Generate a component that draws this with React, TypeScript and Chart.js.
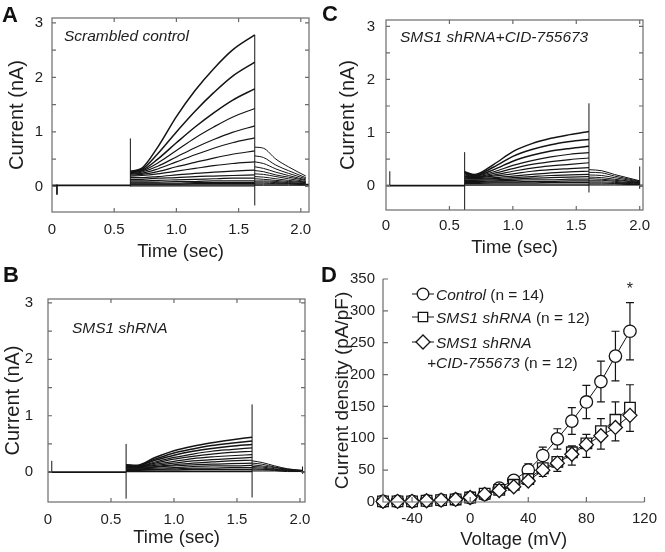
import React, { useEffect, useRef } from 'react';
import { Chart, registerables } from 'chart.js';
Chart.register(...registerables);

const FAMILY = '"Liberation Sans", Arial, Helvetica, sans-serif';
const TEXT = '#1e1e1e';
const FRAME = '#6b6b6b';
const TRACE = '#141414';

// ---------- shared tick labels ----------
const TIME_TICKS = [0, 0.5, 1, 1.5, 2];
const TIME_TICK_LABELS = ['0', '0.5', '1.0', '1.5', '2.0'];
const CURRENT_TICKS = [0, 1, 2, 3];
const CURRENT_TICK_LABELS = ['0', '1', '2', '3'];
const TIME_FRAME_TICKS = [0.5, 1, 1.5, 2];
const CURRENT_FRAME_TICKS = [0, 0.5, 1, 1.5, 2, 2.5, 3];

// ---------- Panel A : Scrambled control ----------
const A_BASELINE = 0.02;
const A_PULSE = [0.63, 1.63];
const A_STEP_T = [0.63, 0.72, 0.85, 1.0, 1.15, 1.3, 1.45, 1.63];
const A_STEP = [
  [0.28, 0.33, 0.72, 1.28, 1.76, 2.16, 2.5, 2.78],
  [0.27, 0.31, 0.6, 1.0, 1.38, 1.72, 2.02, 2.28],
  [0.26, 0.29, 0.5, 0.8, 1.09, 1.35, 1.58, 1.79],
  [0.25, 0.28, 0.43, 0.66, 0.89, 1.09, 1.27, 1.43],
  [0.24, 0.26, 0.37, 0.54, 0.71, 0.86, 0.99, 1.11],
  [0.23, 0.24, 0.32, 0.45, 0.58, 0.7, 0.8, 0.89],
  [0.21, 0.22, 0.27, 0.36, 0.44, 0.52, 0.59, 0.65],
  [0.19, 0.2, 0.23, 0.28, 0.33, 0.38, 0.42, 0.45],
  [0.16, 0.16, 0.18, 0.21, 0.24, 0.26, 0.28, 0.3],
  [0.13, 0.13, 0.15, 0.16, 0.18, 0.19, 0.2, 0.21],
  [0.1, 0.1, 0.11, 0.12, 0.13, 0.14, 0.15, 0.15],
  [0.08, 0.08, 0.08, 0.09, 0.09, 0.1, 0.1, 0.1],
  [0.06, 0.06, 0.06, 0.06, 0.07, 0.07, 0.07, 0.07],
  [0.04, 0.04, 0.04, 0.04, 0.05, 0.05, 0.05, 0.05],
  [0.03, 0.03, 0.03, 0.03, 0.03, 0.03, 0.03, 0.03],
  [0.01, 0.01, 0.01, 0.01, 0.01, 0.01, 0.01, 0.01],
];
const A_TAIL_T = [1.63, 1.7, 1.8, 1.9, 2.04];
const A_TAIL = [
  [0.72, 0.7, 0.5, 0.36, 0.19],
  [0.56, 0.53, 0.39, 0.29, 0.16],
  [0.45, 0.42, 0.32, 0.24, 0.14],
  [0.36, 0.33, 0.26, 0.2, 0.12],
  [0.29, 0.27, 0.21, 0.17, 0.11],
  [0.23, 0.22, 0.18, 0.14, 0.09],
  [0.18, 0.17, 0.14, 0.11, 0.08],
  [0.14, 0.13, 0.11, 0.09, 0.07],
  [0.1, 0.1, 0.09, 0.07, 0.06],
  [0.08, 0.08, 0.07, 0.06, 0.05],
  [0.06, 0.06, 0.05, 0.05, 0.04],
  [0.04, 0.04, 0.04, 0.04, 0.03],
  [0.02, 0.02, 0.02, 0.02, 0.02],
];
const A_POST = 0.03;
const A_SPIKES = [
  [0.04, 0.03, -0.15],
  [0.63, 0.0, 0.88],
  [1.63, -0.35, 2.78],
];

// ---------- Panel B : SMS1 shRNA ----------
const B_BASELINE = 0.0;
const B_PULSE = [0.62, 1.62];
const B_STEP_T = [0.62, 0.7, 0.85, 1.0, 1.15, 1.3, 1.45, 1.62];
const B_STEP = [
  [0.13, 0.12, 0.26, 0.38, 0.46, 0.52, 0.57, 0.62],
  [0.12, 0.11, 0.23, 0.34, 0.41, 0.47, 0.51, 0.55],
  [0.12, 0.11, 0.21, 0.3, 0.37, 0.42, 0.46, 0.49],
  [0.11, 0.1, 0.18, 0.26, 0.32, 0.37, 0.4, 0.43],
  [0.11, 0.1, 0.16, 0.23, 0.28, 0.32, 0.35, 0.37],
  [0.1, 0.09, 0.14, 0.19, 0.24, 0.27, 0.29, 0.31],
  [0.09, 0.09, 0.12, 0.16, 0.2, 0.22, 0.24, 0.26],
  [0.08, 0.08, 0.1, 0.13, 0.16, 0.18, 0.2, 0.21],
  [0.07, 0.07, 0.09, 0.11, 0.13, 0.14, 0.15, 0.16],
  [0.06, 0.06, 0.07, 0.08, 0.1, 0.11, 0.11, 0.12],
  [0.05, 0.05, 0.05, 0.06, 0.07, 0.07, 0.08, 0.08],
  [0.03, 0.03, 0.04, 0.04, 0.05, 0.05, 0.05, 0.05],
  [0.02, 0.02, 0.02, 0.02, 0.02, 0.02, 0.02, 0.02],
  [0.01, 0.01, 0.01, 0.01, 0.01, 0.01, 0.01, 0.01],
];
const B_TAIL_T = [1.62, 1.7, 1.8, 1.9, 2.02];
const B_TAIL = [
  [0.2, 0.17, 0.11, 0.06, 0.03],
  [0.16, 0.14, 0.09, 0.05, 0.03],
  [0.13, 0.11, 0.08, 0.05, 0.02],
  [0.1, 0.09, 0.06, 0.04, 0.02],
  [0.08, 0.07, 0.05, 0.03, 0.02],
  [0.06, 0.05, 0.04, 0.03, 0.02],
  [0.04, 0.04, 0.03, 0.02, 0.01],
  [0.02, 0.02, 0.02, 0.01, 0.01],
];
const B_POST = 0.0;
const B_SPIKES = [
  [0.03, 0.0, 0.2],
  [0.62, -0.47, 0.5],
  [1.62, -0.45, 1.2],
  [2.02, -0.03, 0.1],
];

// ---------- Panel C : SMS1 shRNA+CID-755673 ----------
const C_BASELINE = 0.0;
const C_PULSE = [0.62, 1.6];
const C_STEP_T = [0.62, 0.7, 0.85, 1.0, 1.15, 1.3, 1.45, 1.6];
const C_STEP = [
  [0.26, 0.21, 0.4, 0.64, 0.79, 0.89, 0.96, 1.02],
  [0.25, 0.2, 0.35, 0.55, 0.68, 0.77, 0.83, 0.87],
  [0.24, 0.19, 0.3, 0.46, 0.57, 0.65, 0.7, 0.74],
  [0.22, 0.18, 0.26, 0.38, 0.47, 0.54, 0.59, 0.62],
  [0.2, 0.17, 0.23, 0.32, 0.4, 0.45, 0.49, 0.52],
  [0.18, 0.16, 0.2, 0.27, 0.33, 0.37, 0.4, 0.43],
  [0.16, 0.15, 0.18, 0.22, 0.27, 0.3, 0.32, 0.34],
  [0.14, 0.13, 0.15, 0.18, 0.21, 0.24, 0.26, 0.27],
  [0.12, 0.12, 0.13, 0.15, 0.17, 0.19, 0.2, 0.21],
  [0.1, 0.1, 0.11, 0.12, 0.14, 0.15, 0.16, 0.17],
  [0.08, 0.08, 0.09, 0.1, 0.11, 0.11, 0.12, 0.12],
  [0.06, 0.06, 0.07, 0.07, 0.08, 0.08, 0.09, 0.09],
  [0.04, 0.04, 0.05, 0.05, 0.05, 0.06, 0.06, 0.06],
  [0.03, 0.03, 0.03, 0.03, 0.03, 0.03, 0.03, 0.03],
  [0.01, 0.01, 0.01, 0.01, 0.01, 0.01, 0.01, 0.01],
];
const C_TAIL_T = [1.6, 1.7, 1.8, 1.9, 2.0];
const C_TAIL = [
  [0.3, 0.28, 0.21, 0.15, 0.09],
  [0.25, 0.24, 0.18, 0.13, 0.08],
  [0.2, 0.19, 0.15, 0.11, 0.07],
  [0.16, 0.15, 0.12, 0.09, 0.06],
  [0.13, 0.12, 0.1, 0.08, 0.05],
  [0.1, 0.1, 0.08, 0.06, 0.05],
  [0.07, 0.07, 0.06, 0.05, 0.04],
  [0.05, 0.05, 0.04, 0.04, 0.03],
  [0.03, 0.03, 0.03, 0.02, 0.02],
  [0.01, 0.01, 0.01, 0.01, 0.01],
];
const C_POST = 0.0;
const C_SPIKES = [
  [0.03, 0.0, 0.27],
  [0.62, -0.46, 0.63],
  [1.6, -0.13, 1.55],
  [2.0, -0.06, 0.36],
];

// ---------- Panel D : I-V relationship ----------
const VOLTAGE = [-60, -50, -40, -30, -20, -10, 0, 10, 20, 30, 40, 50, 60, 70, 80, 90, 100, 110];
const CONTROL = [1, 1, 1, 2, 3, 4, 7, 12, 22, 34, 50, 73, 99, 127, 157, 189, 229, 268];
const CONTROL_ERR = [0, 0, 0, 0, 0, 1, 1, 2, 3, 4, 10, 13, 16, 21, 26, 32, 39, 45];
const SHRNA = [1, 1, 1, 2, 3, 4, 7, 13, 19, 27, 36, 53, 63, 78, 92, 111, 129, 148];
const SHRNA_ERR = [0, 0, 0, 0, 0, 1, 1, 2, 2, 3, 4, 7, 8, 10, 14, 20, 28, 36];
const SHRNA_CID = [1, 1, 1, 2, 3, 4, 7, 12, 18, 24, 33, 50, 61, 75, 90, 104, 117, 136];
const SHRNA_CID_ERR = [0, 0, 0, 0, 0, 1, 1, 1, 2, 3, 5, 10, 13, 17, 20, 21, 21, 25];
const D_X_TICKS = [-40, 0, 40, 80, 120];
const D_X_TICK_LABELS = ['-40', '0', '40', '80', '120'];
const D_Y_TICKS = [0, 50, 100, 150, 200, 250, 300, 350];
const D_Y_TICK_LABELS = ['0', '50', '100', '150', '200', '250', '300', '350'];

// ---------- helpers ----------
type TraceSpec = {
  xMax: number; yMin: number; yMax: number;
  baseline: number; pulse: number[];
  stepT: number[]; step: number[][];
  tailT: number[]; tail: number[][];
  post: number; spikes: number[][];
  label: string; labelX: number; labelY: number;
  padTop: number; padRight: number; yWidth: number; xHeight: number;
  xTickPad: number; xTitlePad: number; yTickPad: number; yTitlePad: number;
};

function framePlugin(xTicks: number[], yTicks: number[], len = 4) {
  return {
    id: 'frame',
    afterDatasetsDraw(chart: any) {
      const { ctx, chartArea: a, scales } = chart;
      ctx.save();
      ctx.strokeStyle = FRAME;
      ctx.lineWidth = 1.2;
      ctx.strokeRect(a.left, a.top, a.right - a.left, a.bottom - a.top);
      ctx.beginPath();
      for (const v of xTicks) {
        const p = scales.x.getPixelForValue(v);
        ctx.moveTo(p, a.bottom); ctx.lineTo(p, a.bottom - len);
        ctx.moveTo(p, a.top); ctx.lineTo(p, a.top + len);
      }
      for (const v of yTicks) {
        const p = scales.y.getPixelForValue(v);
        ctx.moveTo(a.left, p); ctx.lineTo(a.left + len, p);
        ctx.moveTo(a.right, p); ctx.lineTo(a.right - len, p);
      }
      ctx.stroke();
      ctx.restore();
    },
  };
}

function textPlugin(text: string, x: number, y: number) {
  return {
    id: 'annot',
    afterDraw(chart: any) {
      const ctx = chart.ctx;
      ctx.save();
      ctx.font = `italic 15.5px ${FAMILY}`;
      ctx.fillStyle = TEXT;
      ctx.textBaseline = 'alphabetic';
      ctx.fillText(text, x, y);
      ctx.restore();
    },
  };
}

function labelFor(ticks: number[], labels: string[]) {
  return (v: any) => {
    const i = ticks.findIndex((t) => Math.abs(t - v) < 1e-9);
    return i >= 0 ? labels[i] : '';
  };
}

function traceConfig(s: TraceSpec): any {
  const line = (pts: { x: number; y: number }[], w: number, mono = true) => ({
    data: pts,
    borderColor: TRACE,
    borderWidth: w,
    pointRadius: 0,
    pointHoverRadius: 0,
    fill: false,
    tension: 0,
    cubicInterpolationMode: mono ? 'monotone' : 'default',
  });
  const datasets: any[] = [];
  datasets.push(line([{ x: 0, y: s.baseline }, { x: s.pulse[0], y: s.baseline }], 1.8, false));
  s.step.forEach((row, k) => datasets.push(line(s.stepT.map((t, i) => ({ x: t, y: row[i] })), k < 3 ? 1.5 : 1.2)));
  s.tail.forEach((row) => datasets.push(line(s.tailT.map((t, i) => ({ x: t, y: row[i] })), 1.0)));
  datasets.push(line([{ x: s.tailT[s.tailT.length - 1], y: s.post }, { x: s.xMax, y: s.post }], 2, false));
  s.spikes.forEach(([t, a, b]) => datasets.push(line([{ x: t, y: a }, { x: t, y: b }], 1, false)));
  return {
    type: 'line',
    data: { datasets },
    options: {
      responsive: false,
      animation: false,
      devicePixelRatio: 1,
      events: [],
      layout: { padding: { left: 0, top: s.padTop, right: s.padRight, bottom: 0 }, autoPadding: false },
      plugins: { legend: { display: false }, tooltip: { enabled: false } },
      scales: {
        x: {
          type: 'linear', min: 0, max: s.xMax,
          grid: { display: false, drawTicks: false }, border: { display: false },
          afterBuildTicks: (sc: any) => { sc.ticks = TIME_TICKS.map((v) => ({ value: v })); },
          afterFit: (sc: any) => { sc.height = s.xHeight; },
          ticks: { font: { family: FAMILY, size: 15 }, color: TEXT, padding: s.xTickPad, maxRotation: 0, autoSkip: false, callback: labelFor(TIME_TICKS, TIME_TICK_LABELS) },
          title: { display: true, text: 'Time (sec)', font: { family: FAMILY, size: 18.5 }, color: TEXT, padding: { top: 0, bottom: s.xTitlePad } },
        },
        y: {
          type: 'linear', min: s.yMin, max: s.yMax,
          grid: { display: false, drawTicks: false }, border: { display: false },
          afterBuildTicks: (sc: any) => { sc.ticks = CURRENT_TICKS.map((v) => ({ value: v })); },
          afterFit: (sc: any) => { sc.width = s.yWidth; },
          ticks: { font: { family: FAMILY, size: 15 }, color: TEXT, padding: s.yTickPad, autoSkip: false, callback: labelFor(CURRENT_TICKS, CURRENT_TICK_LABELS) },
          title: { display: true, text: 'Current (nA)', font: { family: FAMILY, size: 20 }, color: TEXT, padding: { top: s.yTitlePad, bottom: 0 } },
        },
      },
    },
    plugins: [framePlugin(TIME_FRAME_TICKS, CURRENT_FRAME_TICKS), textPlugin(s.label, s.labelX, s.labelY)],
  };
}

const PANEL_A: TraceSpec = {
  xMax: 2.066, yMin: -0.47, yMax: 3.09, baseline: A_BASELINE, pulse: A_PULSE,
  stepT: A_STEP_T, step: A_STEP, tailT: A_TAIL_T, tail: A_TAIL, post: A_POST, spikes: A_SPIKES,
  label: 'Scrambled control', labelX: 64, labelY: 41,
  padTop: 10, padRight: 21, yWidth: 52, xHeight: 63,
  xTickPad: 9, xTitlePad: 12, yTickPad: 9, yTitlePad: 5,
};
const PANEL_B: TraceSpec = {
  xMax: 2.04, yMin: -0.53, yMax: 3.07, baseline: B_BASELINE, pulse: B_PULSE,
  stepT: B_STEP_T, step: B_STEP, tailT: B_TAIL_T, tail: B_TAIL, post: B_POST, spikes: B_SPIKES,
  label: 'SMS1 shRNA', labelX: 72, labelY: 58,
  padTop: 24, padRight: 25, yWidth: 48, xHeight: 50,
  xTickPad: 9, xTitlePad: 3, yTickPad: 15, yTitlePad: 1,
};
const PANEL_C: TraceSpec = {
  xMax: 2.026, yMin: -0.46, yMax: 3.12, baseline: C_BASELINE, pulse: C_PULSE,
  stepT: C_STEP_T, step: C_STEP, tailT: C_TAIL_T, tail: C_TAIL, post: C_POST, spikes: C_SPIKES,
  label: 'SMS1 shRNA+CID-755673', labelX: 70, labelY: 42,
  padTop: 8, padRight: 22, yWidth: 56, xHeight: 65,
  xTickPad: 7, xTitlePad: 16, yTickPad: 11, yTitlePad: 6,
};

function drawMarker(ctx: CanvasRenderingContext2D, style: string, x: number, y: number, r: number) {
  ctx.beginPath();
  if (style === 'circle') ctx.arc(x, y, r, 0, Math.PI * 2);
  else if (style === 'rect') { const h = r * Math.SQRT1_2; ctx.rect(x - h, y - h, 2 * h, 2 * h); }
  else { ctx.moveTo(x - r, y); ctx.lineTo(x, y - r); ctx.lineTo(x + r, y); ctx.lineTo(x, y + r); ctx.closePath(); }
  ctx.fillStyle = '#fff';
  ctx.fill();
  ctx.lineWidth = 1.3;
  ctx.strokeStyle = TRACE;
  ctx.stroke();
}

const ivPlugin = {
  id: 'iv',
  beforeDatasetsDraw(chart: any) {
    const { ctx, scales } = chart;
    const sx = scales.x, sy = scales.y;
    const bars: [number[], number[], boolean, boolean][] = [
      [CONTROL, CONTROL_ERR, true, true],
      [SHRNA, SHRNA_ERR, true, false],
      [SHRNA_CID, SHRNA_CID_ERR, false, true],
    ];
    ctx.save();
    ctx.strokeStyle = TRACE;
    ctx.lineWidth = 1.2;
    ctx.beginPath();
    for (const [vals, errs, up, down] of bars) {
      VOLTAGE.forEach((v, i) => {
        if (errs[i] < 3) return;
        const x = sx.getPixelForValue(v);
        const y = sy.getPixelForValue(vals[i]);
        if (up) {
          const yt = sy.getPixelForValue(vals[i] + errs[i]);
          ctx.moveTo(x, y); ctx.lineTo(x, yt); ctx.moveTo(x - 4, yt); ctx.lineTo(x + 4, yt);
        }
        if (down) {
          const yb = sy.getPixelForValue(vals[i] - errs[i]);
          ctx.moveTo(x, y); ctx.lineTo(x, yb); ctx.moveTo(x - 4, yb); ctx.lineTo(x + 4, yb);
        }
      });
    }
    ctx.stroke();
    ctx.restore();
  },
  afterDraw(chart: any) {
    const { ctx, chartArea: a, scales } = chart;
    const sx = scales.x, sy = scales.y;
    ctx.save();
    // axes
    ctx.strokeStyle = FRAME;
    ctx.lineWidth = 1.2;
    ctx.beginPath();
    ctx.moveTo(a.left, sy.getPixelForValue(350));
    ctx.lineTo(a.left, sy.getPixelForValue(0));
    ctx.lineTo(sx.getPixelForValue(120), sy.getPixelForValue(0));
    for (const v of D_Y_TICKS) { const p = sy.getPixelForValue(v); ctx.moveTo(a.left, p); ctx.lineTo(a.left + 5, p); }
    for (const v of D_X_TICKS) { const p = sx.getPixelForValue(v); ctx.moveTo(p, a.bottom); ctx.lineTo(p, a.bottom - 5); }
    ctx.stroke();
    // legend
    const rows: [string, string, string, number][] = [
      ['circle', 'Control', ' (n = 14)', 32],
      ['rect', 'SMS1 shRNA', ' (n = 12)', 55],
      ['rectRot', 'SMS1 shRNA', '', 80],
    ];
    const radius: Record<string, number> = { circle: 5.8, rect: 6.6, rectRot: 7 };
    for (const [style, it, rest, y] of rows) {
      ctx.strokeStyle = TRACE;
      ctx.lineWidth = 1;
      ctx.beginPath(); ctx.moveTo(82, y); ctx.lineTo(104, y); ctx.stroke();
      drawMarker(ctx, style, 93, y, radius[style]);
      ctx.fillStyle = TEXT;
      ctx.textBaseline = 'alphabetic';
      ctx.font = `italic 15.5px ${FAMILY}`;
      ctx.fillText(it, 106, y + 5.5);
      const w = ctx.measureText(it).width;
      ctx.font = `15.5px ${FAMILY}`;
      ctx.fillText(rest, 106 + w, y + 5.5);
    }
    ctx.font = `italic 15.5px ${FAMILY}`;
    ctx.fillText('+CID-755673', 97, 105.5);
    const w2 = ctx.measureText('+CID-755673').width;
    ctx.font = `15.5px ${FAMILY}`;
    ctx.fillText(' (n = 12)', 97 + w2, 105.5);
    // significance marker
    ctx.font = `16px ${FAMILY}`;
    ctx.textAlign = 'center';
    ctx.fillText('*', sx.getPixelForValue(110), 32);
    ctx.restore();
  },
};

function ivConfig(): any {
  const ds = (vals: number[], style: string, r: number, order: number) => ({
    data: VOLTAGE.map((v, i) => ({ x: v, y: vals[i] })),
    borderColor: TRACE,
    borderWidth: 1,
    pointStyle: style,
    pointRadius: r,
    pointHoverRadius: r,
    pointBackgroundColor: '#fff',
    pointBorderColor: TRACE,
    pointBorderWidth: 1.3,
    fill: false,
    tension: 0,
    clip: false,
    order,
  });
  return {
    type: 'line',
    data: {
      datasets: [
        ds(CONTROL, 'circle', 6.2, 2),
        ds(SHRNA, 'rect', 7.5, 1),
        ds(SHRNA_CID, 'rectRot', 7, 0),
      ],
    },
    options: {
      responsive: false,
      animation: false,
      devicePixelRatio: 1,
      events: [],
      layout: { padding: { left: 0, top: 9, right: 12, bottom: 0 }, autoPadding: false },
      plugins: { legend: { display: false }, tooltip: { enabled: false } },
      scales: {
        x: {
          type: 'linear', min: -60, max: 120,
          grid: { display: false, drawTicks: false }, border: { display: false },
          afterBuildTicks: (sc: any) => { sc.ticks = D_X_TICKS.map((v) => ({ value: v })); },
          afterFit: (sc: any) => { sc.height = 50; },
          ticks: { font: { family: FAMILY, size: 15 }, color: TEXT, padding: 8, maxRotation: 0, autoSkip: false, callback: labelFor(D_X_TICKS, D_X_TICK_LABELS) },
          title: { display: true, text: 'Voltage (mV)', font: { family: FAMILY, size: 18.5 }, color: TEXT, padding: { top: 0, bottom: 1 } },
        },
        y: {
          type: 'linear', min: 0, max: 350,
          grid: { display: false, drawTicks: false }, border: { display: false },
          afterBuildTicks: (sc: any) => { sc.ticks = D_Y_TICKS.map((v) => ({ value: v })); },
          afterFit: (sc: any) => { sc.width = 53; },
          ticks: { font: { family: FAMILY, size: 15 }, color: TEXT, padding: 8, autoSkip: false, callback: labelFor(D_Y_TICKS, D_Y_TICK_LABELS) },
          title: { display: true, text: 'Current density (pA/pF)', font: { family: FAMILY, size: 19 }, color: TEXT, padding: { top: 1, bottom: 0 } },
        },
      },
    },
    plugins: [ivPlugin],
  };
}

function ChartBox({ left, top, width, height, make }: { left: number; top: number; width: number; height: number; make: () => any }) {
  const ref = useRef<HTMLCanvasElement>(null);
  useEffect(() => {
    const chart = new Chart(ref.current as HTMLCanvasElement, make());
    return () => chart.destroy();
  }, []);
  return (
    <div style={{ position: 'absolute', left, top, width, height }}>
      <canvas ref={ref} width={width} height={height} style={{ width, height, display: 'block' }} />
    </div>
  );
}

function Letter({ ch, left, baseline }: { ch: string; left: number; baseline: number }) {
  return (
    <div style={{ position: 'absolute', left, top: baseline - 18.6, font: `bold 22px ${FAMILY}`, lineHeight: '22px', color: '#111' }}>{ch}</div>
  );
}

export default function App() {
  return (
    <div style={{ position: 'absolute', left: 0, top: 0, width: 665, height: 552, background: '#fff', overflow: 'hidden' }}>
      <ChartBox left={0} top={0} width={330} height={275} make={() => traceConfig(PANEL_A)} />
      <ChartBox left={330} top={0} width={335} height={275} make={() => traceConfig(PANEL_C)} />
      <ChartBox left={0} top={275} width={330} height={277} make={() => traceConfig(PANEL_B)} />
      <ChartBox left={330} top={262} width={335} height={290} make={ivConfig} />
      <Letter ch="A" left={2} baseline={23} />
      <Letter ch="C" left={322} baseline={22} />
      <Letter ch="B" left={3} baseline={283} />
      <Letter ch="D" left={321} baseline={283} />
    </div>
  );
}
